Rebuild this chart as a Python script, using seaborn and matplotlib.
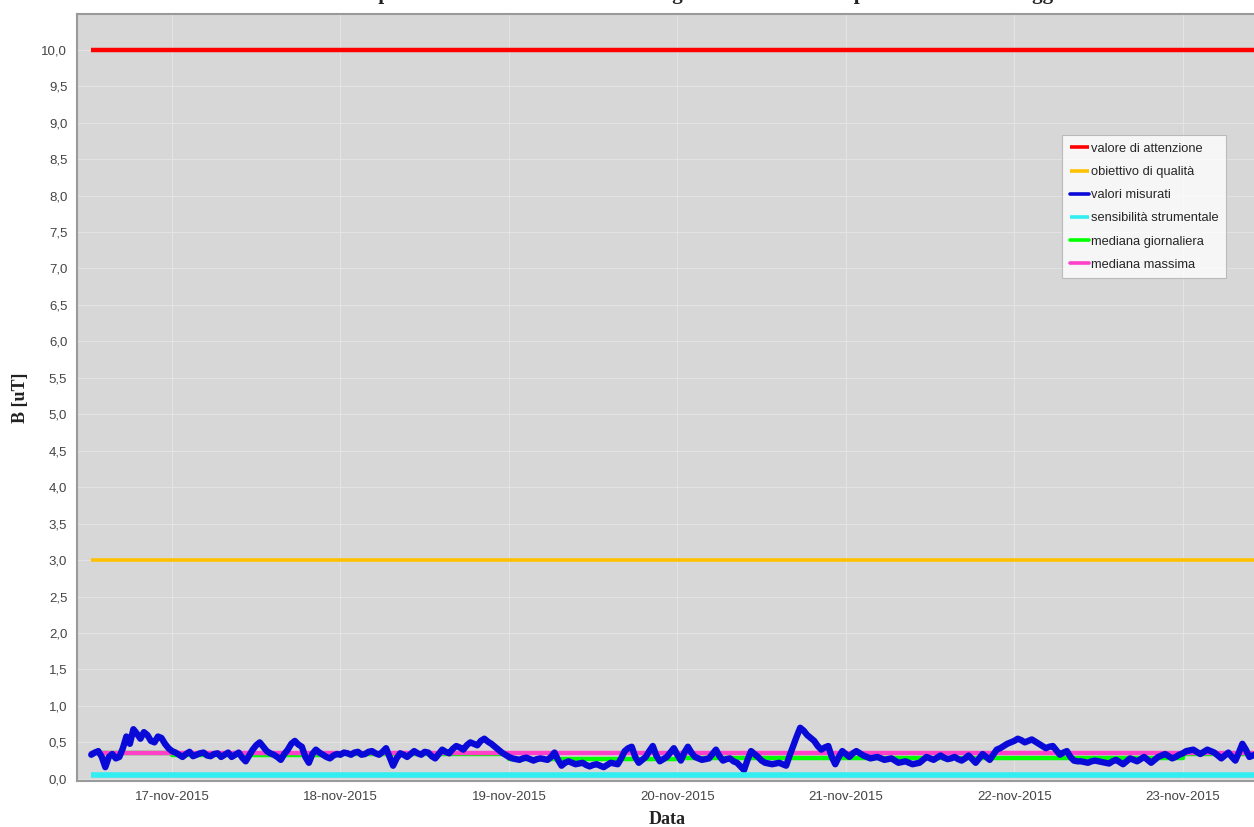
import numpy as np
import pandas as pd
import seaborn as sns
import matplotlib.pyplot as plt
from matplotlib.ticker import FuncFormatter, MultipleLocator

# measured B [uT], every 30 min from 16-nov-2015 12:30
b_16 = [0.33, 0.36, 0.38, 0.30, 0.16, 0.30, 0.34, 0.28, 0.30, 0.42, 0.58, 0.48,
        0.68, 0.62, 0.55, 0.64, 0.60, 0.52, 0.50, 0.58, 0.56, 0.48, 0.42]
b_17 = [0.38, 0.36, 0.33, 0.30, 0.34, 0.37, 0.31, 0.33, 0.35, 0.36, 0.32, 0.31,
        0.34, 0.35, 0.30, 0.33, 0.36, 0.30, 0.33, 0.36, 0.29, 0.24, 0.32, 0.40,
        0.46, 0.50, 0.44, 0.38, 0.35, 0.33, 0.30, 0.26, 0.34, 0.40, 0.48, 0.52,
        0.47, 0.44, 0.30, 0.22, 0.34, 0.40, 0.36, 0.33, 0.30, 0.28, 0.32, 0.34]
b_18 = [0.33, 0.36, 0.35, 0.33, 0.36, 0.37, 0.33, 0.34, 0.37, 0.38, 0.35, 0.33,
        0.37, 0.42, 0.30, 0.18, 0.28, 0.35, 0.33, 0.30, 0.34, 0.38, 0.35, 0.33,
        0.37, 0.36, 0.31, 0.28, 0.34, 0.40, 0.37, 0.35, 0.41, 0.45, 0.43, 0.40,
        0.46, 0.50, 0.48, 0.46, 0.52, 0.55, 0.51, 0.48, 0.44, 0.40, 0.36, 0.33]
b_19 = [0.30, 0.28, 0.27, 0.26, 0.28, 0.29, 0.27, 0.25, 0.27, 0.28, 0.27, 0.26,
        0.30, 0.36, 0.26, 0.18, 0.22, 0.24, 0.22, 0.20, 0.21, 0.22, 0.19, 0.17,
        0.19, 0.20, 0.18, 0.16, 0.19, 0.22, 0.21, 0.20, 0.28, 0.38, 0.42, 0.44,
        0.30, 0.22, 0.26, 0.30, 0.38, 0.45, 0.32, 0.24, 0.27, 0.30, 0.36, 0.42]
b_20 = [0.33, 0.25, 0.36, 0.44, 0.36, 0.30, 0.28, 0.26, 0.27, 0.28, 0.34, 0.40,
        0.31, 0.25, 0.27, 0.28, 0.24, 0.22, 0.17, 0.12, 0.26, 0.38, 0.34, 0.30,
        0.25, 0.22, 0.21, 0.20, 0.21, 0.22, 0.20, 0.18, 0.32, 0.45, 0.58, 0.70,
        0.66, 0.60, 0.56, 0.52, 0.45, 0.40, 0.43, 0.45, 0.30, 0.20, 0.30, 0.38]
b_21 = [0.34, 0.30, 0.35, 0.38, 0.35, 0.32, 0.30, 0.28, 0.29, 0.30, 0.28, 0.26,
        0.27, 0.28, 0.25, 0.22, 0.23, 0.24, 0.22, 0.20, 0.21, 0.22, 0.26, 0.30,
        0.28, 0.26, 0.29, 0.32, 0.29, 0.27, 0.28, 0.30, 0.27, 0.25, 0.28, 0.32,
        0.27, 0.22, 0.28, 0.34, 0.30, 0.26, 0.33, 0.40, 0.42, 0.45, 0.48, 0.50]
b_22 = [0.52, 0.55, 0.53, 0.50, 0.52, 0.54, 0.51, 0.48, 0.45, 0.42, 0.44, 0.45,
        0.39, 0.33, 0.36, 0.38, 0.30, 0.25, 0.24, 0.24, 0.23, 0.22, 0.24, 0.25,
        0.24, 0.23, 0.22, 0.21, 0.24, 0.26, 0.23, 0.20, 0.24, 0.28, 0.26, 0.24,
        0.27, 0.30, 0.26, 0.22, 0.26, 0.30, 0.32, 0.34, 0.31, 0.28, 0.30, 0.33]
b_23 = [0.35, 0.38, 0.39, 0.40, 0.37, 0.34, 0.37, 0.40, 0.38, 0.36, 0.32, 0.28,
        0.32, 0.36, 0.30, 0.25, 0.36, 0.48, 0.40, 0.30, 0.32, 0.34]

# daily medians, 16..23 nov
days = ["2015-11-16 12:30", "2015-11-17 00:00", "2015-11-18 00:00", "2015-11-19 00:00",
        "2015-11-20 00:00", "2015-11-21 00:00", "2015-11-22 00:00", "2015-11-23 00:00",
        "2015-11-23 10:30"]
median_day = [0.36, 0.32, 0.34, 0.27, 0.28, 0.28, 0.28, 0.34]

attenzione = 10.0
qualita = 3.0
sensibilita = 0.05
mediana_max = 0.36

tick_days = ["2015-11-17", "2015-11-18", "2015-11-19", "2015-11-20",
             "2015-11-21", "2015-11-22", "2015-11-23"]
tick_labels = ["17-nov-2015", "18-nov-2015", "19-nov-2015", "20-nov-2015",
               "21-nov-2015", "22-nov-2015", "23-nov-2015"]

title = ("Andamento temporale dei valori di induzione magnetica misurati "
         "nel periodo di monitoraggio")

measured = b_16 + b_17 + b_18 + b_19 + b_20 + b_21 + b_22 + b_23
t = pd.date_range("2015-11-16 12:30", periods=len(measured), freq="30min")
df = pd.DataFrame({"t": t, "B": measured})
t0, t1 = t[0], t[-1]

sns.set_theme(style="whitegrid")
plt.rcParams["font.family"] = ["Liberation Sans", "DejaVu Sans"]

fig = plt.figure(figsize=(12.54, 8.27), dpi=100)
ax = fig.add_axes([77 / 1254, 1 - 781 / 827, 1180 / 1254, 767 / 827])
ax.set_facecolor("#d7d7d7")

ax.grid(True, color="#e4e4e4", linewidth=0.7)
for s in ["left", "bottom", "top"]:
    ax.spines[s].set_color("#9a9a9a")
    ax.spines[s].set_linewidth(1.5)
ax.spines["right"].set_visible(False)

ax.plot([t0, t1], [attenzione] * 2, color="#ff0000", lw=3.2,
        label="valore di attenzione", solid_capstyle="butt")
ax.plot([t0, t1], [qualita] * 2, color="#ffc000", lw=2.6,
        label="obiettivo di qualità", solid_capstyle="butt")
sns.lineplot(data=df, x="t", y="B", ax=ax, color="#0a0ad8", lw=4.6,
             label="valori misurati")
ax.plot([t0, t1], [sensibilita] * 2, color="#33eef0", lw=4.0,
        label="sensibilità strumentale", solid_capstyle="butt")
dd = pd.to_datetime(days, format="%Y-%m-%d %H:%M")
ax.step(dd, median_day + [median_day[-1]], where="post", color="#00ff00",
        lw=3.2, label="mediana giornaliera", zorder=1.5)
ax.plot([t0, t1], [mediana_max] * 2, color="#ff40c8", lw=3.2,
        label="mediana massima", zorder=1.6)

ax.set_xlim(pd.Timestamp("2015-11-16 10:28"), pd.Timestamp("2015-11-23 10:35"))
ax.set_ylim(-0.03, 10.49)
ax.yaxis.set_major_locator(MultipleLocator(0.5))
ax.yaxis.set_major_formatter(FuncFormatter(lambda v, p: f"{v:.1f}".replace(".", ",")))
ax.set_xticks(pd.to_datetime(tick_days))
ax.set_xticklabels(tick_labels)
ax.tick_params(axis="both", colors="#444444", labelsize=9.5, length=4,
               width=0.8, direction="out", pad=3)
ax.tick_params(axis="both", color="#aaaaaa")

ax.set_xlabel("Data", family="Liberation Serif", fontweight="bold",
              fontsize=13, color="#222222", labelpad=6)
ax.set_ylabel("B [uT]", family="Liberation Serif", fontweight="bold",
              fontsize=13, color="#222222", labelpad=9)

# title sits mostly above the top edge, as in the cropped original
fig.text(0.52, 1 + 1 / 827, title, family="Liberation Serif", fontweight="bold",
         fontsize=15, ha="center", va="baseline", color="#222222")

leg = ax.legend(loc="upper left", bbox_to_anchor=(0.835, 0.842), fontsize=9.3,
                frameon=True, fancybox=False, handlelength=1.5, handletextpad=0.1,
                labelspacing=0.86, borderpad=0.6, borderaxespad=0)
leg.get_frame().set_facecolor("white")
leg.get_frame().set_edgecolor("#b0b0b0")
leg.get_frame().set_linewidth(0.8)
for h in leg.get_lines():
    h.set_linewidth(2.6)

fig.savefig("out.png", dpi=100)
